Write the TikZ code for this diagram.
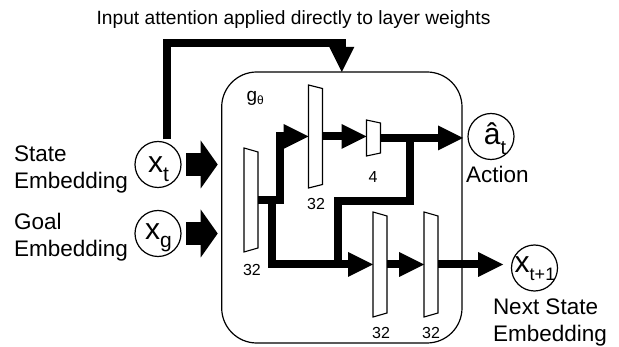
\documentclass[tikz,border=0pt]{standalone}
\usepackage{fontspec}
\setmainfont{Liberation Sans}
\usetikzlibrary{arrows.meta,calc}
\newcommand{\lowsub}[3]{\raisebox{-#1}{\fontsize{#2}{#2}\selectfont #3}}
\newcommand{\circtext}[3]{\smash{\makebox[0pt]{\hspace{#1}\raisebox{#2}{#3}}}}
\newcommand{\nnlayer}[5]{%
  \node[minimum width=14pt, minimum height=#4pt] (#1) at (#2,#3) {};
  \draw[layerline] (#1.north west) -- ([yshift=-#5pt]#1.north east) -- ([yshift=#5pt]#1.south east) -- (#1.south west) -- cycle;}
\begin{document}
\begin{tikzpicture}[x=1pt,y=-1pt,
  every node/.style={inner sep=0pt, outer sep=0pt},
  lbl/.style={font=\fontsize{22.5}{26.8}\selectfont, align=left, anchor=base west},
  num/.style={font=\fontsize{16}{16}\selectfont},
  emb/.style={circle, draw, line width=1.2pt, minimum size=46pt, font=\fontsize{30}{30}\selectfont},
  layerline/.style={line width=1.1pt, line join=miter},
  fat/.style={line width=8pt, -{Triangle[length=25pt,width=25pt,line width=0pt]}},
  blockarr/.style={line width=23pt, -{Triangle[length=17pt,width=48pt,line width=0pt]}},
]
\useasboundingbox (0,0) rectangle (619,347);

% title
\node[anchor=base, font=\fontsize{19.2}{19.2}\selectfont] (title) at (293.5,25) {Input attention applied directly to layer weights};

% main box
\node[draw, line width=1.2pt, rounded corners=35pt, minimum width=240.3pt, minimum height=271pt] (g) at (341.85,207.5) {};
\node[anchor=base west, font=\fontsize{19}{19}\selectfont] (glabel) at (246.5,102) {g\raisebox{-3pt}{\fontsize{12}{12}\selectfont θ}};

% embeddings
\node[emb] (xt) at (158,164.5) {\circtext{1pt}{-8pt}{x\lowsub{9pt}{21}{t}}};
\node[emb] (xg) at (158,233.5) {\circtext{1pt}{-6pt}{x\lowsub{8pt}{21}{g}}};
\node[emb] (at) at (491,136.5) {\circtext{8pt}{-8pt}{â\lowsub{10pt}{20}{t}}};
\node[emb] (xn) at (534.5,268) {\circtext{1pt}{-4.5pt}{x\lowsub{8pt}{18}{t+1}}};

% side labels (anchored at the baseline of the last line)
\node[lbl] (sl) at (14,188.5) {State\\Embedding};
\node[lbl] (gl) at (14,256.3) {Goal\\Embedding};
\node[lbl] (al) at (466,183) {Action};
\node[lbl] (nl) at (493,341.5) {Next State\\Embedding};

% layers
\nnlayer{L1}{251}{200}{104}{4}
\nnlayer{L2}{315.5}{136.5}{103}{3.5}
\nnlayer{L3}{373.5}{138}{36}{3}
\nnlayer{L4}{380}{264.5}{105}{4}
\nnlayer{L5}{431}{264.5}{105}{4}

\node[num] (n1) at (252,270) {32};
\node[num] (n2) at (316,204) {32};
\node[num] (n3) at (373,177) {4};
\node[num] (n4) at (381,333) {32};
\node[num] (n5) at (431,333) {32};

% input block arrows
\draw[blockarr, shorten <=5pt, shorten >=4pt] (xt.east) -- (xt.east -| g.west);
\draw[blockarr, shorten <=5pt, shorten >=4pt] (xg.east) -- (xg.east -| g.west);

% feedback arrow
\draw[fat] ([xshift=8.5pt,yshift=2pt]xt.north) |- ([yshift=29pt]g.north) -- (g.north);

% internal connectors
\draw[fat] (L1.east) -- ++(21.5,0) |- (L2.west);
\draw[fat] (L1.east) -- ++(14,0) |- (L4.west);
\draw[fat] (L2.east) -- (L2.east -| L3.west);
\draw[fat, shorten >=5pt] (L3.east) -- (L3.east -| at.west);
\coordinate (br1) at (409.5,138);
\coordinate (br2) at (338,264.5);
\draw[line width=8pt] (br1) -- ++(0,63.5) -| (br2);
\draw[fat] (L4.east) -- (L5.west);
\draw[fat, shorten >=8.5pt] (L5.east) -- (L5.east -| xn.west);
\end{tikzpicture}
\end{document}
